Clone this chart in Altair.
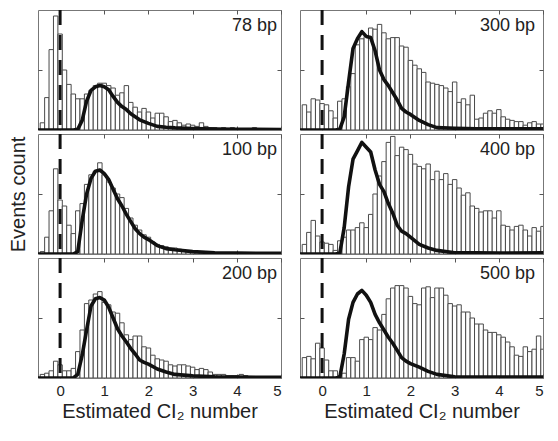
import altair as alt
import pandas as pd

# ---------------- data ----------------
bin_centers = [-0.4, -0.3, -0.2, -0.1, 0.0, 0.1, 0.2, 0.3, 0.4, 0.5,
               0.6, 0.7, 0.8, 0.9, 1.0, 1.1, 1.2, 1.3, 1.4, 1.5,
               1.6, 1.7, 1.8, 1.9, 2.0, 2.1, 2.2, 2.3, 2.4, 2.5,
               2.6, 2.7, 2.8, 2.9, 3.0, 3.1, 3.2, 3.3, 3.4, 3.5,
               3.6, 3.7, 3.8, 3.9, 4.0, 4.1, 4.2, 4.3, 4.4, 4.5,
               4.6, 4.7, 4.8, 4.9, 5.0]
bin_width = 0.1

counts_78 = [6, 27, 67, 95, 80, 50, 38, 30, 26, 26,
             30, 33, 37, 39, 39, 37, 35, 29, 31, 37,
             23, 19, 15, 18, 15, 10, 14, 14, 11, 7,
             8, 6, 4, 5, 4, 3, 6, 3, 2, 2,
             1, 2, 1, 2, 1, 1, 0, 1, 2, 1,
             1, 0, 1, 1, 1]
counts_100 = [2, 14, 36, 71, 45, 40, 24, 17, 36, 42,
              58, 66, 69, 76, 66, 60, 55, 50, 47, 38,
              30, 24, 20, 16, 14, 10, 8, 7, 6, 5,
              5, 4, 3, 2, 2, 1, 1, 1, 1, 1,
              1, 0, 1, 0, 1, 0, 0, 1, 0, 0,
              0, 1, 0, 1, 0]
counts_200 = [3, 4, 6, 14, 11, 6, 6, 8, 22, 40,
              62, 65, 70, 72, 63, 61, 55, 54, 46, 36,
              32, 35, 35, 26, 25, 19, 16, 15, 14, 11,
              10, 11, 11, 10, 9, 7, 8, 7, 5, 3,
              3, 3, 2, 2, 2, 3, 2, 1, 1, 1,
              1, 1, 1, 1, 1]
counts_300 = [21, 15, 26, 25, 22, 21, 16, 10, 24, 26,
              36, 47, 71, 76, 78, 85, 84, 88, 81, 76,
              77, 77, 70, 69, 58, 54, 51, 48, 40, 39,
              38, 37, 35, 32, 40, 23, 26, 21, 29, 9,
              10, 14, 16, 14, 17, 11, 9, 8, 7, 7,
              4, 6, 7, 5, 5]
counts_400 = [8, 18, 28, 15, 10, 9, 8, 3, 11, 14,
              20, 20, 22, 26, 22, 33, 50, 65, 77, 93,
              98, 82, 89, 87, 83, 75, 73, 71, 75, 62,
              69, 62, 67, 58, 62, 55, 49, 51, 40, 38,
              35, 36, 36, 30, 36, 24, 23, 20, 23, 24,
              20, 15, 22, 19, 23]
counts_500 = [17, 18, 16, 29, 25, 15, 6, 6, 2, 4,
              17, 17, 14, 32, 34, 32, 42, 40, 53, 66,
              75, 77, 77, 75, 68, 62, 61, 75, 76, 67,
              75, 75, 69, 62, 60, 61, 55, 55, 50, 45,
              45, 40, 38, 38, 36, 34, 30, 26, 19, 18,
              26, 22, 24, 35, 24]

curve_x = [-0.5, 0.3, 0.4, 0.5, 0.6, 0.7, 0.8, 0.9, 1.0, 1.1, 1.2, 1.3, 1.4,
           1.5, 1.6, 1.7, 1.8, 1.9, 2.0, 2.2, 2.4, 2.6, 3.0, 3.5, 4.0, 5.0]
curve_78 = [0, 0, 0.5, 8, 24, 33, 36, 37, 36, 33.5, 28, 23, 19.5,
            17, 13.5, 11, 8.5, 7, 5.5, 3, 2.3, 1.8, 1.2, 0.8, 0.6, 0.4]
curve_100 = [0, 0, 2, 28, 50, 63, 69, 70, 67, 62, 54, 46, 40,
             33, 27, 21, 17, 14, 12, 7, 4.5, 3.5, 2, 1, 0.7, 0.5]
curve_200 = [0, 0, 3, 19, 40, 60, 66, 67, 65, 59, 50, 41, 35,
             30, 24.5, 20, 15, 13, 11.5, 7.5, 5, 3, 1.8, 1, 0.7, 0.5]
curve_300 = [0, 0, 0.5, 11, 40, 68, 76, 82, 78, 77, 66, 50, 42,
             37, 31, 25, 18, 15, 13, 8, 4.5, 2, 1.5, 1, 1, 1]
curve_400 = [0, 0, 0.5, 22, 56, 79, 86, 93, 89, 85, 70, 58, 52,
             42, 34, 24, 19, 17, 14, 8, 5, 3, 1, 1, 0.8, 1]
curve_500 = [0, 0, 0.5, 20, 49, 63, 70, 73, 69, 63, 53, 46, 40,
             34, 29, 23, 17, 14, 12, 9, 5.5, 3, 1, 0.8, 0.8, 0.8]

panel_labels = ["78 bp", "100 bp", "200 bp", "300 bp", "400 bp", "500 bp"]
x_ticks = [0, 1, 2, 3, 4, 5]
y_ticks = [50]
x_domain = [-0.5, 5]
y_domain = [0, 100]
zero_line = [0]

# ---------------- styling ----------------
FONT = "Liberation Sans"
TXT = "#222222"
TICK = "#555555"
W, H = 243, 120


def panel(label, counts, curve, bottom, left, inset):
    xs = alt.Scale(domain=x_domain, nice=False, zero=False)
    ys = alt.Scale(domain=y_domain, nice=False)

    bars_df = pd.DataFrame({
        "lo": [c - bin_width / 2 for c in bin_centers],
        "hi": [c + bin_width / 2 for c in bin_centers],
        "base": [0 for _ in bin_centers],
        "count": counts,
    })
    curve_df = pd.DataFrame({"x": curve_x, "v": curve})

    xb = dict(values=x_ticks, orient="bottom", offset=-4, tickSize=4,
              tickColor=TICK, domain=False, grid=False, labels=bottom)
    if bottom:
        xb.update(labelFont=FONT, labelFontSize=15, labelColor=TXT,
                  labelPadding=5, title="Estimated CI\u2082 number",
                  titleFont=FONT, titleFontSize=20, titleFontWeight="normal",
                  titleColor=TXT, titlePadding=3)
    else:
        xb.update(title=None)

    yl = dict(values=y_ticks, orient="left", offset=-4, tickSize=4,
              tickColor=TICK, domain=False, grid=False, labels=False)
    if left:
        yl.update(title="Events count", titleFont=FONT, titleFontSize=20,
                  titleFontWeight="normal", titleColor=TXT, titlePadding=9,
                  titleOpacity=1 if label == "100 bp" else 0)
    else:
        yl.update(title=None)

    bars = alt.Chart(bars_df).mark_rect(
        fill="white", stroke="#4a4a4a", strokeWidth=1, clip=True
    ).encode(
        x=alt.X("lo:Q", scale=xs, axis=alt.Axis(**xb)),
        x2="hi:Q",
        y=alt.Y("count:Q", scale=ys, axis=alt.Axis(**yl)),
        y2="base:Q",
    )

    line = alt.Chart(curve_df).mark_line(
        color="#111111", strokeWidth=3.6, clip=True, strokeJoin="round"
    ).encode(
        x=alt.X("x:Q", scale=xs,
                axis=alt.Axis(values=x_ticks, orient="top", offset=-4,
                              tickSize=4, tickColor=TICK, domain=False,
                              grid=False, labels=False, title=None)),
        y=alt.Y("v:Q", scale=ys,
                axis=alt.Axis(values=y_ticks, orient="right", offset=-4,
                              tickSize=4, tickColor=TICK, domain=False,
                              grid=False, labels=False, title=None)),
    )

    rule = alt.Chart(pd.DataFrame({"x": zero_line})).mark_rule(
        color="#111111", strokeWidth=3, strokeDash=[15, 10]
    ).encode(x=alt.X("x:Q", scale=xs, axis=None))

    text = alt.Chart(pd.DataFrame({"t": [label]})).mark_text(
        align="right", baseline="middle", font=FONT, fontSize=18, color=TXT
    ).encode(x=alt.value(W - inset), y=alt.value(16), text="t:N")

    return alt.layer(bars, line, rule, text).resolve_axis(
        x="independent", y="independent"
    ).properties(width=W, height=H)


left_col = alt.vconcat(
    panel(panel_labels[0], counts_78, curve_78, False, True, 4),
    panel(panel_labels[1], counts_100, curve_100, False, True, 4),
    panel(panel_labels[2], counts_200, curve_200, True, True, 4),
    spacing=0,
)
right_col = alt.vconcat(
    panel(panel_labels[3], counts_300, curve_300, False, False, 8),
    panel(panel_labels[4], counts_400, curve_400, False, False, 8),
    panel(panel_labels[5], counts_500, curve_500, True, False, 8),
    spacing=0,
)

chart = alt.hconcat(left_col, right_col, spacing=17).properties(
    padding=0, background="white"
).configure_view(stroke="#777777", strokeWidth=1)

chart.save("out.html", embed_options={"renderer": "svg", "actions": False})
